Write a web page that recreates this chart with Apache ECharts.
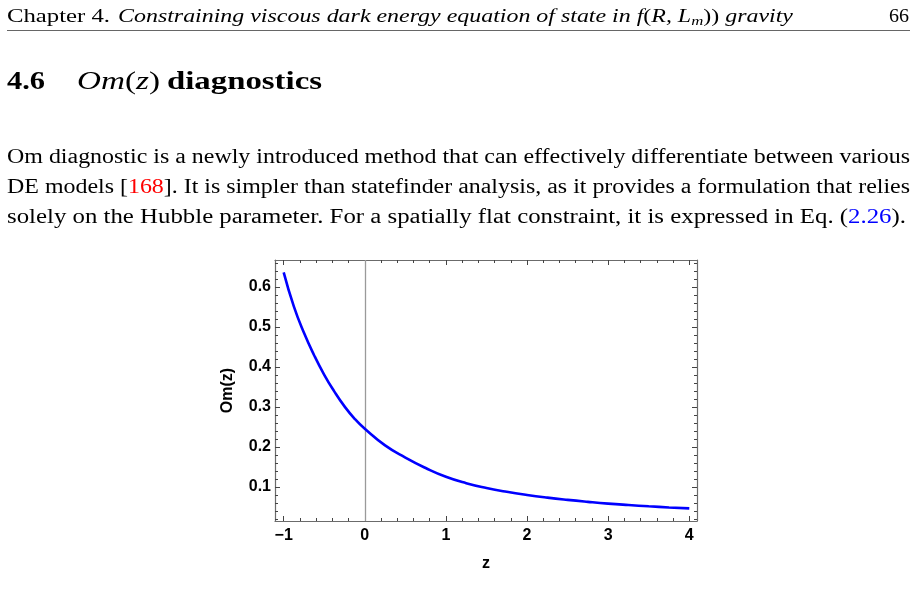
<!DOCTYPE html>
<html>
<head>
<meta charset="UTF-8">
<title>Om(z) diagnostics</title>
<script src="https://cdn.jsdelivr.net/npm/echarts@6/dist/echarts.min.js"></script>
<style>
	body { margin: 0; background: #fff; }
	#page { position: relative; width: 916px; height: 598px; overflow: hidden; }
	#omChart { position: absolute; left: 0; top: 0; width: 916px; height: 598px; }
	.t { position: absolute; white-space: nowrap; line-height: 1; transform-origin: 0 0;
		font-family: 'Liberation Serif', 'Times New Roman', serif; color: #000; }
	.t sub { font-size: 0.7em; vertical-align: -0.22em; line-height: 0; }
	#rule { position: absolute; left: 7px; top: 30px; width: 903px; height: 0; border-top: 1.4px solid #666; }
</style>
</head>
<body>
<div id="page">
	<div id="omChart"></div>

	<span class="t" style="left:7px; top:7px; font-size:18px" data-w="103">Chapter 4.</span>
	<span class="t" style="left:118px; top:7px; font-size:18px" data-w="675"><i>Constraining viscous dark energy equation of state in f</i>(<i>R, L<sub>m</sub></i>)) <i>gravity</i></span>
	<span class="t" style="left:889px; top:7px; font-size:18px" data-w="20">66</span>
	<div id="rule"></div>

	<span class="t" style="left:7px; top:68px; font-size:25px; font-weight:bold" data-w="38">4.6</span>
	<span class="t" style="left:77px; top:68px; font-size:25px" data-w="83"><i>Om</i>(<i>z</i>)</span>
	<span class="t" style="left:167px; top:68px; font-size:25px; font-weight:bold" data-w="155">diagnostics</span>

	<span class="t" style="left:7px; top:146px; font-size:20px" data-w="903">Om diagnostic is a newly introduced method that can effectively differentiate between various</span>
	<span class="t" style="left:7px; top:176px; font-size:20px" data-w="903">DE models [<span style="color:#ff0000">168</span>]. It is simpler than statefinder analysis, as it provides a formulation that relies</span>
	<span class="t" style="left:7px; top:206px; font-size:20px" data-w="899">solely on the Hubble parameter. For a spatially flat constraint, it is expressed in Eq. (<span style="color:#0000ff">2.26</span>).</span>
</div>
<script type="text/javascript">
	// curve
	var zValues = [ -1, -0.875, -0.75, -0.625, -0.5, -0.375, -0.25, -0.125, 0,
			0.25, 0.5, 0.75, 1, 1.25, 1.5, 1.75, 2, 2.25, 2.5, 2.75, 3, 3.25, 3.5, 3.75, 4 ];
	var omValues = [ 0.636, 0.551, 0.485, 0.429, 0.380, 0.338, 0.301, 0.270, 0.245,
			0.2035, 0.173, 0.147, 0.125, 0.109, 0.097, 0.0874, 0.0795, 0.0729, 0.0673,
			0.0624, 0.058, 0.0544, 0.0512, 0.0484, 0.046 ];

	// ticks
	var xMajor = [ -1, 0, 1, 2, 3, 4 ];
	var xMinor = [ -0.8, -0.6, -0.4, -0.2, 0.2, 0.4, 0.6, 0.8, 1.2, 1.4, 1.6, 1.8,
			2.2, 2.4, 2.6, 2.8, 3.2, 3.4, 3.6, 3.8 ];
	var yMajor = [ 0.1, 0.2, 0.3, 0.4, 0.5, 0.6 ];
	var yMinor = [ 0.02, 0.04, 0.06, 0.08, 0.12, 0.14, 0.16, 0.18, 0.22, 0.24, 0.26, 0.28,
			0.32, 0.34, 0.36, 0.38, 0.42, 0.44, 0.46, 0.48, 0.52, 0.54, 0.56, 0.58,
			0.62, 0.64, 0.66 ];

	var xMin = -1.107, xMax = 4.095;
	var yMin = 0.0145, yMax = 0.667;

	var frameColor = '#6b6b6b';
	var tickColor = '#444';
	var labelFont = {
		color : '#000',
		fontFamily : 'Liberation Sans, Arial, sans-serif',
		fontWeight : 'bold',
		fontSize : 16
	};

	// stretch page text to the widths of the original typesetting
	var texts = document.querySelectorAll('[data-w]');
	for (var i = 0; i < texts.length; i++) {
		var w = texts[i].getBoundingClientRect().width;
		texts[i].style.transform = 'scaleX(' + (+texts[i].getAttribute('data-w') / w) + ')';
	}

	function axis(pos, major, showLine, showLabel, values, min, max) {
		var a = {
			type : 'value',
			position : pos,
			min : min,
			max : max,
			splitLine : { show : false },
			axisLine : { show : showLine, onZero : false, lineStyle : { color : frameColor, width : 1.2 } },
			axisTick : {
				show : true,
				inside : true,
				length : major ? 5 : 3,
				customValues : values,
				lineStyle : { color : tickColor, width : 1 }
			},
			axisLabel : { show : false }
		};
		if (showLabel) {
			a.axisLabel = {
				show : true,
				customValues : values,
				margin : 7,
				color : labelFont.color,
				fontFamily : labelFont.fontFamily,
				fontWeight : labelFont.fontWeight,
				fontSize : labelFont.fontSize
			};
		}
		return a;
	}

	var xBottom = axis('bottom', true, true, true, xMajor, xMin, xMax);
	xBottom.axisLabel.formatter = function(v) {
		return v < 0 ? '\u2212' + Math.abs(v) : String(v);
	};
	xBottom.name = 'z';
	xBottom.nameLocation = 'middle';
	xBottom.nameGap = 35;
	xBottom.nameTextStyle = labelFont;

	var yLeft = axis('left', true, true, true, yMajor, yMin, yMax);
	yLeft.axisLabel.margin = 4;
	yLeft.axisLabel.formatter = function(v) {
		return v.toFixed(1);
	};
	yLeft.name = 'Om(z)';
	yLeft.nameLocation = 'middle';
	yLeft.nameGap = 39;
	yLeft.nameTextStyle = labelFont;

	var points = [];
	for (var k = 0; k < zValues.length; k++) {
		points.push([ zValues[k], omValues[k] ]);
	}

	var omChart = echarts.init(document.getElementById('omChart'));
	omChart.setOption({
		animation : false,
		backgroundColor : 'transparent',
		grid : {
			left : 275,
			top : 260,
			width : 422,
			height : 261,
			containLabel : false
		},
		xAxis : [ xBottom,
				axis('bottom', false, false, false, xMinor, xMin, xMax),
				axis('top', true, true, false, xMajor, xMin, xMax),
				axis('top', false, false, false, xMinor, xMin, xMax) ],
		yAxis : [ yLeft,
				axis('left', false, false, false, yMinor, yMin, yMax),
				axis('right', true, true, false, yMajor, yMin, yMax),
				axis('right', false, false, false, yMinor, yMin, yMax) ],
		series : [ {
			name : 'Om(z)',
			type : 'line',
			xAxisIndex : 0,
			yAxisIndex : 0,
			smooth : 0.5,
			symbol : 'none',
			z : 3,
			lineStyle : { color : '#0000ff', width : 2.6 },
			markLine : {
				silent : true,
				symbol : 'none',
				z : 1,
				label : { show : false },
				lineStyle : { color : '#9a9a9a', width : 1.3, type : 'solid' },
				data : [ { xAxis : 0 } ]
			},
			data : points
		} ]
	});
</script>
</body>
</html>
